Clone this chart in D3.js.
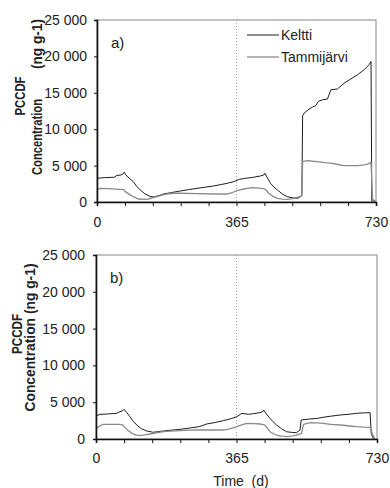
<!DOCTYPE html>
<html>
<head>
<meta charset="utf-8">
<script src="https://cdn.jsdelivr.net/npm/d3@7"></script>
<style>
  html, body { margin: 0; padding: 0; background: #fff; }
  svg { display: block; font-family: "Liberation Sans", Arial, sans-serif; }
</style>
</head>
<body>
<svg id="chart" width="390" height="488"></svg>
<script>
// PCCDF concentration (ng g-1) over two years, two sediment sites
const seriesNames = ["Keltti", "Tammijärvi"];
const xTickValues = [0, 73, 146, 219, 292, 365, 438, 511, 584, 657, 730];
const xTickLabels = [0, 365, 730];
const yTickValues = [0, 5000, 10000, 15000, 20000, 25000];

// Scenario a)
const kelttiA_day = [0, 20, 45, 52, 62, 68, 71, 76, 85, 95, 104, 113, 125, 139, 150, 160, 174, 195, 218, 240, 262, 285, 305, 325, 341, 358, 373, 389, 410, 428, 436, 439, 446, 454, 463, 472, 485, 498, 511, 524, 532, 536, 538, 542, 555, 564, 572, 579, 590, 603, 612, 629, 647, 664, 682, 699, 712, 717, 719, 724, 728];
const kelttiA_val = [3260, 3350, 3400, 3650, 3700, 3850, 4090, 3700, 3250, 2800, 2150, 1650, 1150, 750, 700, 850, 1100, 1300, 1510, 1700, 1880, 2050, 2200, 2400, 2570, 2800, 3120, 3260, 3400, 3580, 3700, 3950, 3300, 2570, 2050, 1650, 1100, 730, 580, 500, 700, 960, 11842, 12214, 12765, 13040, 13219, 13811, 14045, 14142, 15422, 15519, 16345, 16896, 17488, 18176, 18865, 19319, 100, 300, 0];
const tammiA_day = [0, 8, 30, 60, 70, 74, 85, 95, 108, 130, 145, 157, 170, 183, 200, 218, 260, 305, 341, 355, 365, 380, 406, 425, 439, 444, 449, 460, 472, 485, 498, 511, 524, 536, 538, 551, 565, 577, 595, 612, 630, 646, 665, 682, 700, 708, 717, 721, 728];
const tammiA_val = [1650, 1880, 1850, 1740, 1700, 1420, 1050, 730, 410, 370, 550, 730, 950, 1100, 1200, 1200, 1150, 1100, 1100, 1300, 1550, 1750, 1970, 1900, 1790, 1550, 1200, 800, 500, 400, 370, 450, 640, 830, 5550, 5690, 5600, 5550, 5400, 5330, 5150, 5000, 5000, 5000, 5100, 5190, 5470, 0, 0];

// Scenario b)
const kelttiB_day = [0, 10, 30, 54, 62, 70, 73, 80, 88, 97, 106, 118, 132, 149, 160, 175, 195, 218, 245, 268, 288, 310, 331, 350, 366, 379, 396, 410, 426, 433, 436, 444, 452, 460, 469, 482, 495, 508, 521, 530, 533, 556, 575, 590, 610, 634, 655, 677, 695, 712, 715, 719, 725];
const kelttiB_val = [3126, 3350, 3400, 3490, 3710, 3850, 4030, 3600, 3030, 2400, 1900, 1400, 1090, 910, 1000, 1090, 1200, 1310, 1500, 1680, 2040, 2250, 2490, 2750, 3030, 3490, 3350, 3450, 3580, 3700, 3940, 3300, 2810, 2350, 1900, 1400, 990, 900, 860, 1220, 2580, 2720, 2800, 2950, 3100, 3260, 3350, 3490, 3550, 3580, 770, 200, 0];
const tammiB_day = [0, 18, 40, 62, 70, 73, 83, 93, 103, 114, 127, 140, 157, 175, 195, 218, 245, 268, 300, 331, 350, 366, 380, 392, 410, 426, 439, 446, 452, 460, 469, 482, 495, 508, 521, 534, 539, 556, 575, 590, 610, 634, 655, 677, 695, 712, 719, 725];
const tammiB_val = [1450, 2000, 2000, 2000, 1900, 1680, 1200, 770, 550, 450, 550, 680, 850, 990, 1080, 1130, 1200, 1220, 1220, 1220, 1400, 1680, 1950, 2130, 2100, 2040, 1900, 1400, 990, 750, 540, 400, 310, 400, 540, 770, 2000, 2220, 2200, 2130, 2000, 1900, 1800, 1680, 1620, 1590, 540, 0];

const colors = { Keltti: "#1e1e1e", "Tammijärvi": "#8a8a8a" };
const widths = { Keltti: 1, "Tammijärvi": 1.3 };

const svg = d3.select("#chart");
const fmt = d => d3.format(",")(d).replace(/,/g, " ");

function zip(days, vals) { return days.map((d, i) => ({ day: d, value: vals[i] })); }

function drawPanel(cfg) {
  const x = d3.scaleLinear().domain([0, 730]).range([cfg.left, cfg.right]);
  const y = d3.scaleLinear().domain([0, 25000]).range([cfg.bottom, cfg.top]);
  const g = svg.append("g");

  // light frame on top / right
  g.append("rect")
    .attr("x", cfg.left).attr("y", cfg.top)
    .attr("width", cfg.right - cfg.left).attr("height", cfg.bottom - cfg.top)
    .attr("fill", "none").attr("stroke", "#9a9a9a").attr("stroke-width", 1.2);

  // dotted marker at one year
  g.append("line")
    .attr("x1", x(365)).attr("x2", x(365))
    .attr("y1", cfg.top).attr("y2", cfg.bottom)
    .attr("stroke", "#aaa").attr("stroke-width", 1).attr("stroke-dasharray", "1,2");

  const line = d3.line().x(d => x(d.day)).y(d => y(d.value));
  cfg.series.forEach(s => {
    g.append("path")
      .datum(zip(s.day, s.val))
      .attr("fill", "none")
      .attr("stroke", colors[s.name])
      .attr("stroke-width", widths[s.name])
      .attr("stroke-linejoin", "round")
      .attr("d", line);
  });

  const yAxis = g.append("g")
    .attr("transform", `translate(${cfg.left},0)`)
    .call(d3.axisLeft(y).tickValues(yTickValues).tickSize(3).tickPadding(cfg.yPad).tickFormat(fmt));
  const xAxis = g.append("g")
    .attr("transform", `translate(0,${cfg.bottom})`)
    .call(d3.axisBottom(x).tickValues(xTickValues).tickSize(4).tickPadding(cfg.xPad)
      .tickFormat(d => xTickLabels.includes(d) ? d : ""));
  [yAxis, xAxis].forEach(a => {
    a.select(".domain").attr("stroke", "#111").attr("stroke-width", 1.6);
    a.selectAll(".tick line").attr("stroke", "#111").attr("stroke-width", 1);
    a.selectAll(".tick text").attr("fill", "#222").style("font-size", "14px")
      .style("font-family", "'Liberation Sans', Arial, sans-serif");
  });

  g.append("text")
    .attr("x", cfg.tagX).attr("y", cfg.tagY)
    .style("font-size", "15px").attr("fill", "#222")
    .text(cfg.tag);

  cfg.titles.forEach(t => {
    g.append("text")
      .attr("transform", `translate(${t.x},${t.y}) rotate(-90)`)
      .attr("text-anchor", "middle")
      .attr("textLength", t.len).attr("lengthAdjust", "spacingAndGlyphs")
      .style("font-size", "14px").style("font-weight", "bold").attr("fill", "#222")
      .text(t.text);
  });
  return { x, y, g };
}

const A = drawPanel({
  left: 97, right: 376, top: 20, bottom: 202, yPad: 7, xPad: 11,
  tag: "a)", tagX: 111, tagY: 48,
  series: [
    { name: "Keltti", day: kelttiA_day, val: kelttiA_val },
    { name: "Tammijärvi", day: tammiA_day, val: tammiA_val }
  ],
  titles: [
    { text: "PCCDF", x: 25, y: 96, len: 39 },
    { text: "Concentration", x: 42, y: 137, len: 76 },
    { text: "(ng g-1)", x: 42, y: 44, len: 50 }
  ]
});

const B = drawPanel({
  left: 96, right: 377, top: 255, bottom: 439, yPad: 8, xPad: 10,
  tag: "b)", tagX: 110, tagY: 283,
  series: [
    { name: "Keltti", day: kelttiB_day, val: kelttiB_val },
    { name: "Tammijärvi", day: tammiB_day, val: tammiB_val }
  ],
  titles: [
    { text: "PCCDF", x: 21.5, y: 334, len: 40 },
    { text: "Concentration (ng g-1)", x: 35, y: 337.5, len: 148 }
  ]
});

// legend in panel a
const legend = svg.append("g");
seriesNames.forEach((name, i) => {
  const yy = 35 + i * 22;
  legend.append("line")
    .attr("x1", 247).attr("x2", 279).attr("y1", yy).attr("y2", yy)
    .attr("stroke", colors[name]).attr("stroke-width", widths[name]);
  legend.append("text")
    .attr("x", 281).attr("y", yy + 5)
    .style("font-size", "14px").attr("fill", "#222")
    .text(name);
});

// shared time axis title
svg.append("text")
  .attr("x", 241).attr("y", 486)
  .attr("text-anchor", "middle")
  .style("font-size", "14px").style("white-space", "pre").attr("fill", "#222")
  .text("Time  (d)");
</script>
</body>
</html>
